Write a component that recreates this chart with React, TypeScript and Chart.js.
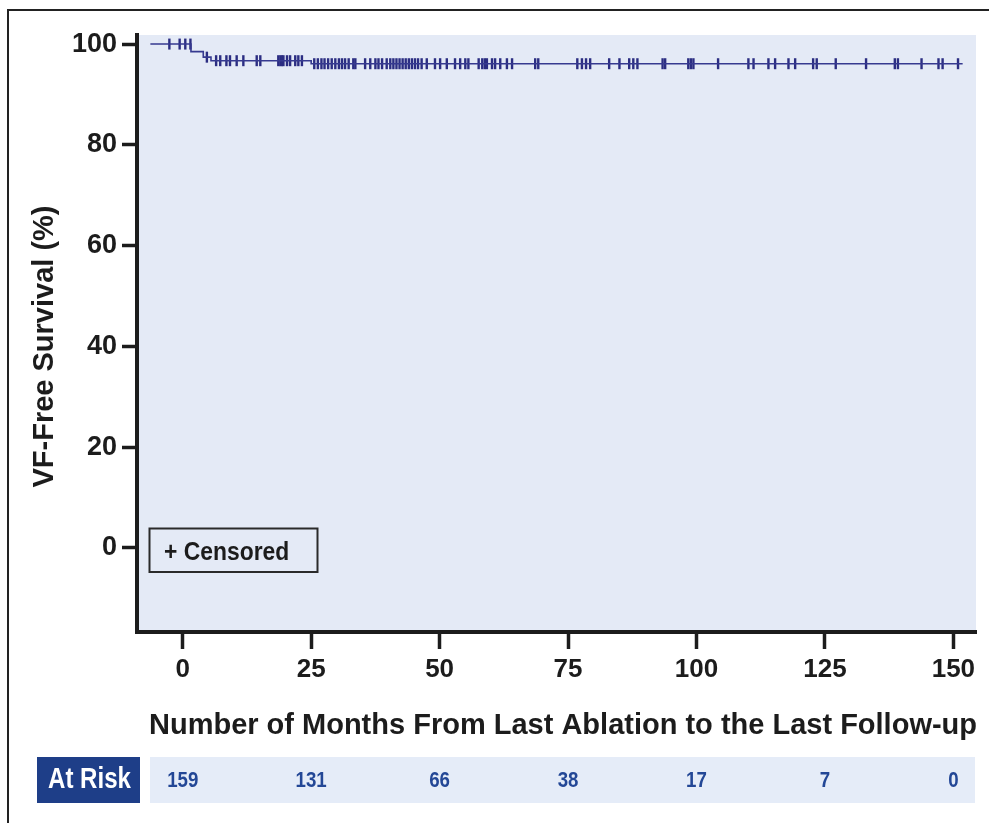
import React, { useEffect, useRef } from "react";
import { Chart, registerables } from "chart.js";

Chart.register(...registerables);

// ---------- data ----------
const xTickValues = [0, 25, 50, 75, 100, 125, 150];
const yTickValues = [0, 20, 40, 60, 80, 100];
const atRiskCounts = [159, 131, 66, 38, 17, 7, 0];

// Kaplan-Meier step curve: time of each step and survival after it
const stepTimes = [-6.3, 1.6, 4.0, 5.5, 25.0, 151.8];
const stepSurvival = [100, 98.5, 97.4, 96.7, 96.1, 96.1];

// censored observations (months)
const censorTimes = [
  -2.6, -0.6, 0.5, 1.5,
  4.7, 6.5, 7.3, 8.5, 9.2, 10.5, 11.8, 14.4, 15.1, 18.6, 19.0, 19.3, 19.6,
  20.3, 20.9, 21.9, 22.5, 23.2,
  25.6, 26.3, 27.0, 27.6, 28.3, 29.0, 29.7, 30.4, 31.0, 31.6, 32.3, 33.2, 33.6,
  35.5, 36.5, 37.5, 38.1, 38.8, 39.7, 40.4, 41.0, 41.6, 42.2, 42.8, 43.4, 44.0,
  44.6, 45.2, 45.8, 46.5, 47.5, 49.1, 50.1, 51.4, 53.0, 54.0, 55.0, 55.6, 57.6,
  58.3, 58.8, 59.2, 60.2, 60.8, 61.8, 63.1, 64.1, 68.6, 69.2,
  76.8, 77.7, 78.5, 79.3, 83.0, 85.0, 86.9, 87.7, 88.5, 93.4, 93.9, 98.4, 98.9,
  99.4, 104.2, 110.1, 111.1, 114.0, 115.3, 117.9, 119.2, 122.7, 123.4, 127.1,
  133.0, 138.6, 139.2, 143.8, 147.1, 147.9, 150.9,
];

const xTitle = "Number of Months From Last Ablation to the Last Follow-up";
const yTitle = "VF-Free Survival (%)";
const legendLabel = "+ Censored";
const atRiskLabel = "At Risk";

// ---------- styles ----------
const SANS = '"Liberation Sans", Arial, Helvetica, sans-serif';
const INK = "#1c1c1c";
const LINE_COLOR = "#363a90";
const MARK_COLOR = "#2b2d82";
const PLOT_BG = "#e4eaf6";
const STRIP_BG = "#e5ecf8";
const NAVY = "#1e3e88";
const NUM_COLOR = "#234796";

function survivalAt(t: number): number {
  let s = stepSurvival[0];
  for (let i = 0; i < stepTimes.length; i++) {
    if (stepTimes[i] <= t) s = stepSurvival[i];
  }
  return s;
}

function condensedText(ctx: CanvasRenderingContext2D, text: string, x: number, y: number, sx: number, align: CanvasTextAlign) {
  ctx.save();
  ctx.translate(x, y);
  ctx.scale(sx, 1);
  ctx.textAlign = align;
  ctx.textBaseline = "alphabetic";
  ctx.fillText(text, 0, 0);
  ctx.restore();
}

const decorPlugin = {
  id: "decor",
  beforeDraw(chart: any) {
    const { ctx, chartArea } = chart;
    ctx.save();
    ctx.fillStyle = "#ffffff";
    ctx.fillRect(0, 0, chart.width, chart.height);
    // outer frame
    ctx.strokeStyle = "#222";
    ctx.lineWidth = 2;
    ctx.strokeRect(8, 10, 1100, 1000);
    // plot background
    ctx.fillStyle = PLOT_BG;
    ctx.fillRect(chartArea.left, chartArea.top, chartArea.right - chartArea.left, chartArea.bottom - chartArea.top);
    ctx.restore();
  },
  afterDraw(chart: any) {
    const { ctx } = chart;
    const xs = chart.scales.x;
    ctx.save();
    // legend box
    ctx.strokeStyle = "#2a2a2a";
    ctx.lineWidth = 2;
    ctx.strokeRect(149.5, 528.5, 168, 43.5);
    ctx.fillStyle = INK;
    ctx.font = `bold 26px ${SANS}`;
    condensedText(ctx, legendLabel, 164, 560, 0.88, "left");

    // x title
    ctx.font = `bold 29px ${SANS}`;
    ctx.textAlign = "center";
    ctx.textBaseline = "alphabetic";
    ctx.fillText(xTitle, 563, 733.5);

    // y title
    ctx.save();
    ctx.translate(53, 346.5);
    ctx.rotate(-Math.PI / 2);
    ctx.fillText(yTitle, 0, 0);
    ctx.restore();

    // at risk row
    ctx.fillStyle = NAVY;
    ctx.fillRect(37, 757, 103, 46);
    ctx.fillStyle = STRIP_BG;
    ctx.fillRect(150, 757, 825, 46);
    ctx.fillStyle = "#ffffff";
    ctx.font = `bold 29px ${SANS}`;
    condensedText(ctx, atRiskLabel, 89.5, 788, 0.83, "center");
    ctx.fillStyle = NUM_COLOR;
    ctx.font = `bold 22px ${SANS}`;
    xTickValues.forEach((v, i) => {
      condensedText(ctx, String(atRiskCounts[i]), xs.getPixelForValue(v), 787, 0.85, "center");
    });
    ctx.restore();
  },
};

export default function App() {
  const canvasRef = useRef<HTMLCanvasElement | null>(null);

  useEffect(() => {
    if (!canvasRef.current) return;
    const lineData = stepTimes.map((t, i) => ({ x: t, y: stepSurvival[i] }));
    const censorData = censorTimes.map((t) => ({ x: t, y: survivalAt(t) }));

    const chart = new Chart(canvasRef.current, {
      type: "scatter",
      data: {
        datasets: [
          {
            label: "survival",
            data: lineData,
            showLine: true,
            stepped: "before",
            borderColor: LINE_COLOR,
            borderWidth: 1.6,
            pointRadius: 0,
            pointHoverRadius: 0,
            fill: false,
          } as any,
          {
            label: "censored",
            data: censorData,
            pointStyle: "line",
            rotation: 90,
            pointRadius: 5.5,
            pointHoverRadius: 5.5,
            borderColor: MARK_COLOR,
            backgroundColor: MARK_COLOR,
            borderWidth: 2.4,
          } as any,
        ],
      },
      options: {
        responsive: false,
        animation: false,
        events: [],
        layout: { padding: { left: 0, right: 13, top: 35, bottom: 0 } },
        plugins: { legend: { display: false }, tooltip: { enabled: false } },
        scales: {
          x: {
            type: "linear",
            min: -8.9,
            max: 154.4,
            afterBuildTicks: (s: any) => {
              s.ticks = xTickValues.map((v) => ({ value: v }));
            },
            afterFit: (s: any) => {
              s.height = 191;
            },
            ticks: {
              color: INK,
              font: { family: SANS, size: 26, weight: "bold" },
              padding: 5,
              maxRotation: 0,
              autoSkip: false,
            },
            grid: {
              display: true,
              drawOnChartArea: false,
              drawTicks: true,
              tickLength: 17,
              tickWidth: 3.5,
              tickColor: INK,
            },
            border: { display: true, width: 4, color: INK },
          },
          y: {
            type: "linear",
            min: -16.7,
            max: 101.8,
            afterBuildTicks: (s: any) => {
              s.ticks = yTickValues.map((v) => ({ value: v }));
            },
            afterFit: (s: any) => {
              s.width = 137;
            },
            ticks: {
              color: INK,
              font: { family: SANS, size: 27, weight: "bold" },
              padding: 5,
              autoSkip: false,
            },
            grid: {
              display: true,
              drawOnChartArea: false,
              drawTicks: true,
              tickLength: 15,
              tickWidth: 3.5,
              tickColor: INK,
            },
            border: { display: true, width: 4, color: INK },
          },
        },
      } as any,
      plugins: [decorPlugin],
    });
    return () => chart.destroy();
  }, []);

  return (
    <div style={{ position: "fixed", left: 0, top: 0, width: 989, height: 823, background: "#fff" }}>
      <canvas ref={canvasRef} width={989} height={823} style={{ display: "block" }} />
    </div>
  );
}
